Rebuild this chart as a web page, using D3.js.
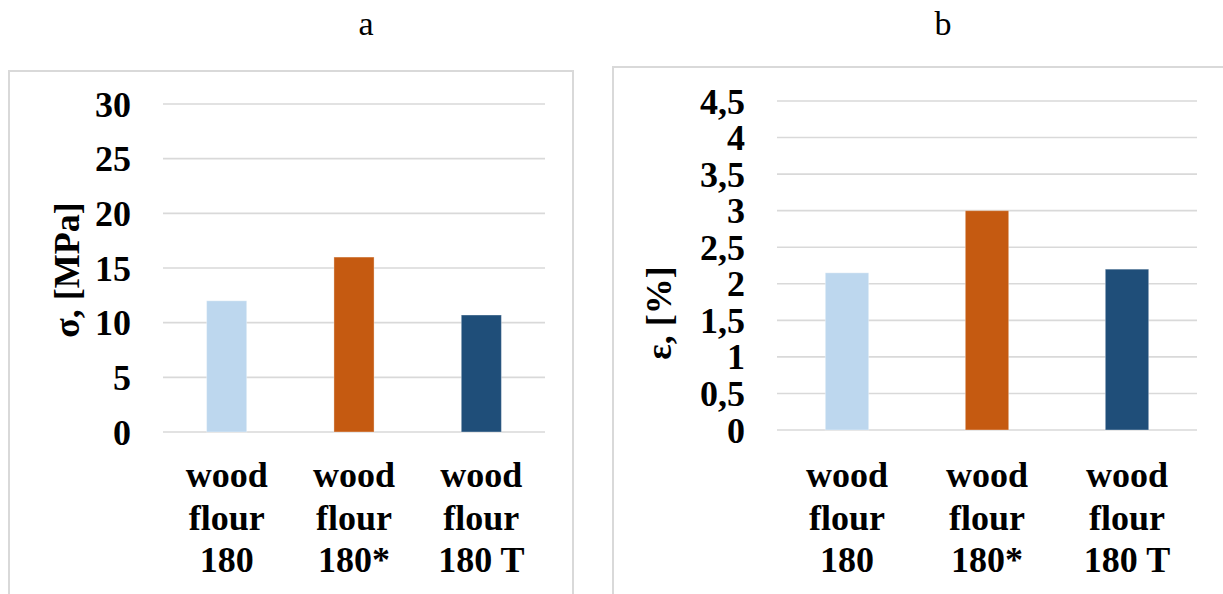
<!DOCTYPE html>
<html lang="en">
<head>
    <meta charset="UTF-8">
    <title>Wood flour composites - strength and elongation</title>
    <script src="https://d3js.org/d3.v7.min.js"></script>
    <style>
        body { margin: 0; background: #fff; }
        svg text { font-family: "Liberation Serif", "Times New Roman", serif; fill: #000; }
        .tick-label, .cat-label, .axis-title { font-weight: bold; font-size: 36px; }
        .panel-title { font-size: 34px; }
    </style>
</head>
<body>
    <svg width="1223" height="594"></svg>
    <script>
        // data
        var categories = [["wood", "flour", "180"], ["wood", "flour", "180*"], ["wood", "flour", "180 T"]];
        var strength = [12, 16, 10.7];          // sigma, MPa
        var elongation = [2.15, 3.0, 2.2];      // epsilon, %
        var colors = ["#bdd7ee", "#c55a11", "#1f4e79"];
        var strengthTicks = [0, 5, 10, 15, 20, 25, 30];
        var elongTicks = [0, 0.5, 1, 1.5, 2, 2.5, 3, 3.5, 4, 4.5];

        var svg = d3.select("svg");
        var fmt = function(v) { return String(v).replace(".", ","); };

        function drawPanel(opt) {
            var g = svg.append("g");

            // panel frame
            g.append("rect")
                .attr("x", opt.frame[0]).attr("y", opt.frame[1])
                .attr("width", opt.frame[2]).attr("height", opt.frame[3])
                .attr("fill", "none")
                .attr("stroke", "#d9d9d9")
                .attr("stroke-width", 2);

            g.append("text")
                .attr("class", "panel-title")
                .attr("x", opt.titleX).attr("y", 35)
                .attr("text-anchor", "middle")
                .text(opt.title);

            var x = d3.scaleBand()
                .domain(d3.range(categories.length))
                .range(opt.xRange)
                .paddingInner(opt.pad)
                .paddingOuter(opt.pad / 2);

            var y = d3.scaleLinear()
                .domain([0, d3.max(opt.ticks)])
                .range(opt.yRange);

            // gridlines
            g.selectAll(".grid")
                .data(opt.ticks)
                .enter().append("line")
                .attr("x1", opt.xRange[0]).attr("x2", opt.xRange[1])
                .attr("y1", d => y(d)).attr("y2", d => y(d))
                .attr("stroke", "#d9d9d9")
                .attr("stroke-width", 1.6);

            g.selectAll(".tick-label")
                .data(opt.ticks)
                .enter().append("text")
                .attr("class", "tick-label")
                .attr("x", opt.xRange[0] - 32)
                .attr("y", d => y(d))
                .attr("dy", "0.35em")
                .attr("text-anchor", "end")
                .text(d => fmt(d));

            g.selectAll(".bar")
                .data(opt.values)
                .enter().append("rect")
                .attr("x", (d, i) => x(i))
                .attr("y", d => y(d))
                .attr("width", x.bandwidth())
                .attr("height", d => y(0) - y(d))
                .attr("fill", (d, i) => colors[i])
                .attr("stroke", "#ffffff")
                .attr("stroke-opacity", 0.35)
                .attr("stroke-width", 1);

            // category labels, three lines each
            var cat = g.selectAll(".cat-label")
                .data(categories)
                .enter().append("text")
                .attr("class", "cat-label")
                .attr("text-anchor", "middle");
            cat.selectAll("tspan")
                .data((d, i) => d.map(s => ({ s: s, i: i })))
                .enter().append("tspan")
                .attr("x", d => x(d.i) + x.bandwidth() / 2)
                .attr("y", (d, j) => 487 + j * 42.5)
                .text(d => d.s);

            g.append("text")
                .attr("class", "axis-title")
                .attr("transform", "translate(" + opt.titlePos[0] + "," + opt.titlePos[1] + ") rotate(-90)")
                .attr("text-anchor", "middle")
                .text(opt.yTitle);
        }

        drawPanel({
            frame: [9, 71, 564, 540],
            title: "a", titleX: 366,
            xRange: [163, 545], yRange: [432, 104],
            pad: 0.685,
            ticks: strengthTicks,
            values: strength,
            yTitle: "σ, [MPa]",
            titlePos: [79, 270]
        });

        drawPanel({
            frame: [613, 67, 640, 540],
            title: "b", titleX: 943,
            xRange: [777, 1197], yRange: [430, 101],
            pad: 0.69,
            ticks: elongTicks,
            values: elongation,
            yTitle: "ε, [%]",
            titlePos: [671, 313]
        });
    </script>
</body>
</html>
